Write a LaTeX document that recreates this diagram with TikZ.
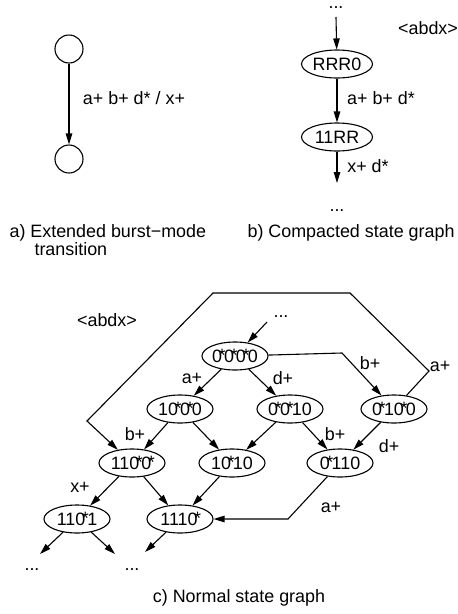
\documentclass[tikz,border=0pt]{standalone}
\usepackage{fontspec}
\setmainfont{Liberation Sans}
\usetikzlibrary{arrows.meta,shapes.geometric}
% digit carrying a "don't care" star set over its right edge
\newcommand\sv[1]{#1\rlap{\kern-0.19em\raisebox{0.04em}{*}}\kern0.11em}

\begin{document}
\begin{tikzpicture}[x=1pt,y=-1pt,
  font=\fontsize{17.9}{21}\selectfont,
  line width=1.1pt,
  state/.style={ellipse,draw,minimum width=66pt,minimum height=28pt,inner sep=0pt},
  bstate/.style={state,minimum width=71pt},
  circ/.style={circle,draw,minimum size=28pt,inner sep=0pt},
  arr/.style={-{Triangle[length=11pt,width=6.5pt]}},
  lbl/.style={inner sep=0pt},
  dots/.style={inner sep=0pt,anchor=base,text height=0.15em,text depth=0pt}]
\useasboundingbox (0,0) rectangle (458,614);

% ---- a) extended burst-mode transition
\node[circ] (s1) at (69,49) {};
\node[circ] (s2) at (69,159) {};
\draw[arr] (s1) -- (s2);
\node[lbl] (la) at (134,98) {a+ b+ d* / x+};
\node[lbl,anchor=base west] (capa1) at (9,237) {a) Extended burst−mode};
\node[lbl,anchor=base west] (capa2) at (34,255) {transition};

% ---- b) compacted state graph
\node[dots] (bdots1) at (336,8) {...};
\coordinate (bin) at (336,17);
\node[bstate] (rrr) at (337,64) {RRR0};
\node[bstate] (orr) at (337,137) {11RR};
\coordinate (bout) at (337,183);
\draw[arr] (bin) -- (rrr);
\draw[arr] (rrr) -- (orr);
\draw[arr] (orr) -- (bout);
\node[lbl] (lb1) at (381,98) {a+ b+ d*};
\node[lbl] (lb2) at (368,166) {x+ d*};
\node[dots] (bdots2) at (337,211) {...};
\node[lbl] (sigb) at (428,28) {<abdx>};
\node[lbl,anchor=base west] (capb) at (247,237) {b) Compacted state graph};

% ---- c) normal state graph
\node[lbl] (sigc) at (107,320) {<abdx>};
\node[dots] (cdots0) at (281,317) {...};
\coordinate (cin) at (267,322);

\node[state] (n0000) at (235,356) {\sv0\sv0\sv0 0};
\node[state] (n1000) at (180,409) {1\sv0\sv0 0};
\node[state] (n0010) at (290,409) {\sv0\sv0 10};
\node[state] (n0100) at (394,409) {\sv0 1\sv0 0};
\node[state] (n1100) at (132,463) {11\sv0\sv0};
\node[state] (n1010) at (232,463) {1\sv0 10};
\node[state] (n0110) at (340,463) {\sv0 110};
\node[state] (n1101) at (77,519) {11\sv0 1};
\node[state] (n1110) at (180,519) {111\sv0};

% corner points of the routed connectors
\coordinate (r1) at (342,353);
\coordinate (u1) at (429,371);
\coordinate (u2) at (350,293);
\coordinate (u3) at (213,293);
\coordinate (u4) at (87,421);
\coordinate (w1) at (288,519);
\coordinate (e1) at (40,554);
\coordinate (e2) at (115,554);
\coordinate (e3) at (145,552);

\draw[arr] (cin) -- (n0000);
\draw[arr] (n0000) -- (n1000);
\draw[arr] (n0000) -- (n0010);
\draw[arr] (n0000) -- (r1) -- (n0100);
\draw[arr] (n1000) -- (n1100);
\draw[arr] (n1000) -- (n1010);
\draw[arr] (n0010) -- (n1010);
\draw[arr] (n0010) -- (n0110);
\draw[arr] (n0100) -- (n0110);
\draw[arr] (n0100) -- (u1) -- (u2) -- (u3) -- (u4) -- (n1100);
\draw[arr] (n1100) -- (n1101);
\draw[arr] (n1100) -- (n1110);
\draw[arr] (n1010) -- (n1110);
\draw[arr] (n0110) -- (w1) -- (n1110);
\draw[arr] (n1101) -- (e1);
\draw[arr] (n1101) -- (e2);
\draw[arr] (n1110) -- (e3);

\node[lbl] (l1) at (192,378) {a+};
\node[lbl] (l2) at (283,378) {d+};
\node[lbl] (l3) at (370,363) {b+};
\node[lbl] (l4) at (440,366) {a+};
\node[lbl] (l5) at (135,434) {b+};
\node[lbl] (l6) at (335,434) {b+};
\node[lbl] (l7) at (389,446) {d+};
\node[lbl] (l8) at (80,487) {x+};
\node[lbl] (l9) at (331,507) {a+};

\node[dots] (cdots1) at (32,570) {...};
\node[dots] (cdots2) at (132,570) {...};
\node[lbl,anchor=base] (capc) at (239,602) {c) Normal state graph};
\end{tikzpicture}
\end{document}
